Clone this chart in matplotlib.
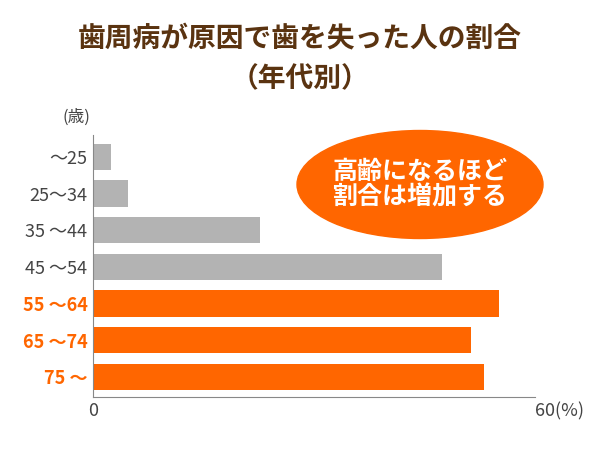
import matplotlib.pyplot as plt
from matplotlib.patches import Ellipse

plt.rcParams['font.family'] = ['Noto Sans CJK JP', 'DejaVu Sans']

# data
ages = ["～25", "25～34", "35 ～44", "45 ～54", "55 ～64", "65 ～74", "75 ～"]
values = [2.4, 4.7, 22.7, 47.4, 55.1, 51.3, 53.1]
highlight = [False, False, False, False, True, True, True]

orange = "#ff6600"
grey = "#b3b3b3"
brown = "#5a3310"

fig = plt.figure(figsize=(6, 4.5), dpi=100)
ax = fig.add_axes([0.155, 0.118, 0.737, 0.582])

ys = list(range(len(ages)))[::-1]
colors = [orange if h else grey for h in highlight]
ax.barh(ys, values, height=0.72, color=colors)
ax.set_xlim(0, 60)
ax.set_ylim(-0.55, 6.6)
ax.set_xticks([0, 60])
ax.set_xticklabels(["0", "60(%)"], fontsize=13, color="#444444")
ax.get_xticklabels()[1].set_horizontalalignment("left")
ax.get_xticklabels()[1].set_x(56.8)
ax.set_yticks(ys)
ax.set_yticklabels(ages, fontsize=13)
for lbl, h in zip(ax.get_yticklabels(), highlight):
    lbl.set_color(orange if h else "#444444")
    if h:
        lbl.set_fontweight("bold")
ax.tick_params(length=0, pad=4)
for s in ["top", "right"]:
    ax.spines[s].set_visible(False)
for s in ["left", "bottom"]:
    ax.spines[s].set_color("#888888")

fig.text(0.105, 0.73, "(歳)", fontsize=12, color="#444444", ha="left")

fig.text(0.5, 0.915, "歯周病が原因で歯を失った人の割合", fontsize=20, fontweight="bold",
         color=brown, ha="center", va="center")
fig.text(0.5, 0.825, "（年代別）", fontsize=20, fontweight="bold",
         color=brown, ha="center", va="center")

ell = Ellipse((0.70, 0.59), 0.41, 0.24, transform=fig.transFigure, color=orange, zorder=5)
fig.patches.append(ell)
fig.text(0.70, 0.59, "高齢になるほど\n割合は増加する", fontsize=18, fontweight="bold",
         color="white", ha="center", va="center", linespacing=1.05, zorder=6)

fig.savefig("out.png", dpi=100)
